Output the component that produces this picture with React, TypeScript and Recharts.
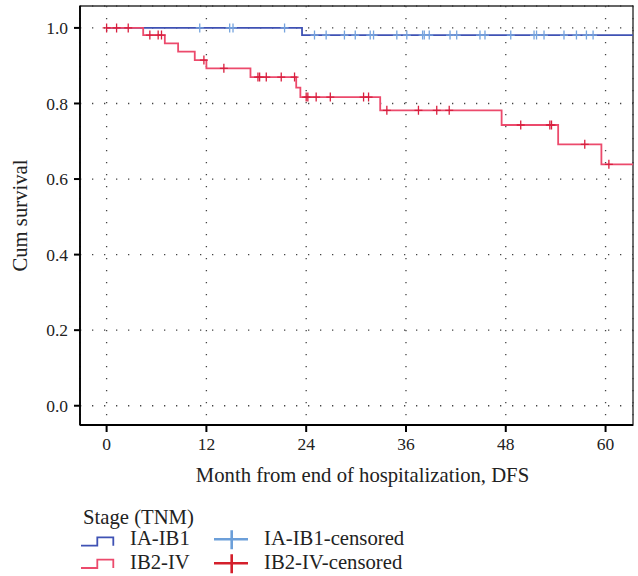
import React from 'react';
import {
  ComposedChart,
  Line,
  Scatter,
  XAxis,
  YAxis,
  CartesianGrid,
  ReferenceArea,
  Label,
} from 'recharts';

const FONT = '"Liberation Serif", "Times New Roman", serif';

// ---- data ----
const legendTitle = 'Stage (TNM)';
const stageLabels = ['IA-IB1', 'IB2-IV'];
const censorLabels = ['IA-IB1-censored', 'IB2-IV-censored'];
const xTitle = 'Month from end of hospitalization, DFS';
const yTitle = 'Cum survival';

const xTicks = [0, 12, 24, 36, 48, 60];
const yTicks = [0, 0.2, 0.4, 0.6, 0.8, 1.0];
const xDomain = [-3.2, 63.3];
const yDomain = [-0.051, 1.058];

const blueStepTimes = [0, 23.5, 63.3];
const blueStepSurv = [1.0, 0.981, 0.981];
const blueCensorTimes = [
  11.2, 14.8, 15.2, 21.4, 25.0, 26.4, 28.6, 29.9, 31.7, 32.1, 34.9, 36.1, 38.0,
  38.2, 38.8, 41.3, 42.1, 44.9, 45.5, 48.6, 51.4, 51.7, 52.6, 55.0, 56.5, 57.7, 58.5,
];

const redStepTimes = [0, 4.4, 7.0, 8.6, 10.6, 12.0, 17.3, 22.8, 23.3, 32.9, 47.5, 54.3, 59.5, 63.3];
const redStepSurv = [1.0, 0.981, 0.959, 0.937, 0.915, 0.893, 0.87, 0.842, 0.817, 0.782, 0.743, 0.692, 0.639, 0.639];
const redCensorTimes = [
  0, 1.2, 2.6, 5.2, 6.2, 6.6, 11.7, 14.1, 18.2, 18.4, 19.2, 21.0, 22.6, 24.0, 24.2,
  25.2, 26.9, 30.9, 31.5, 33.7, 37.5, 39.7, 41.2, 49.8, 53.3, 53.5, 57.5, 60.4,
];

// ---- colours ----
const BLUE_LINE = '#3f52b4';
const RED_LINE = '#ec4a6c';
const BLUE_CENSOR = '#76a4de';
const RED_CENSOR = '#d81f3e';
const BLUE_LEG_CROSS = '#6c9fd9';
const RED_LEG_CROSS = '#d41f2b';

const survAt = (times: number[], surv: number[], t: number) => {
  let v = surv[0];
  for (let i = 0; i < times.length; i++) if (times[i] <= t) v = surv[i];
  return v;
};

const blueLine = blueStepTimes.map((t, i) => ({ t, s: blueStepSurv[i] }));
const redLine = redStepTimes.map((t, i) => ({ t, s: redStepSurv[i] }));
const blueCensor = blueCensorTimes.map((t) => ({ t, s: survAt(blueStepTimes, blueStepSurv, t) }));
const redCensor = redCensorTimes.map((t) => ({ t, s: survAt(redStepTimes, redStepSurv, t) }));

const makeCross = (color: string) => (props: any) => {
  const { cx, cy } = props;
  if (cx == null || cy == null) return <g />;
  return (
    <path
      d={`M${cx - 4},${cy}H${cx + 4}M${cx},${cy - 4.5}V${cy + 4.5}`}
      stroke={color}
      strokeWidth={1.3}
      fill="none"
    />
  );
};

const W = 638;
const H = 576;
const TITLE_FS = 20.7;
const TICK_FS = 17.5;

export default function App() {
  return (
    <div style={{ position: 'absolute', left: 0, top: 0, width: W, height: H, background: '#fff' }}>
      <ComposedChart
        width={W}
        height={H}
        margin={{ top: 6, right: 5, left: 0, bottom: 111 }}
        style={{ fontFamily: FONT }}
      >
        <CartesianGrid
          stroke="#444"
          strokeWidth={1.3}
          strokeDasharray="1.3 10.7"
          horizontal
          vertical
        />
        <ReferenceArea
          x1={xDomain[0]}
          x2={xDomain[1]}
          y1={yDomain[0]}
          y2={yDomain[1]}
          fill="none"
          stroke="#333"
          strokeWidth={1.4}
          ifOverflow="visible"
        />
        <XAxis
          dataKey="t"
          type="number"
          domain={xDomain}
          ticks={xTicks}
          allowDataOverflow
          height={40}
          interval={0}
          tickSize={7}
          tickMargin={6}
          axisLine={{ stroke: '#000', strokeWidth: 1.8 }}
          tickLine={{ stroke: '#000', strokeWidth: 2 }}
          tick={{ fontSize: TICK_FS, fill: '#222', fontFamily: FONT }}
        >
          <Label
            content={(p: any) => {
              const vb = p.viewBox || {};
              return (
                <text
                  x={vb.x + vb.width / 2 + 6}
                  y={vb.y + 57}
                  textAnchor="middle"
                  fontSize={TITLE_FS}
                  fill="#222"
                  fontFamily={FONT}
                >
                  {xTitle}
                </text>
              );
            }}
          />
        </XAxis>
        <YAxis
          type="number"
          domain={yDomain}
          ticks={yTicks}
          allowDataOverflow
          width={80}
          interval={0}
          tickSize={6}
          tickMargin={6}
          tickFormatter={(v: number) => v.toFixed(1)}
          axisLine={{ stroke: '#000', strokeWidth: 1.8 }}
          tickLine={{ stroke: '#000', strokeWidth: 2 }}
          tick={{ fontSize: TICK_FS, fill: '#222', fontFamily: FONT }}
        >
          <Label
            content={(p: any) => {
              const vb = p.viewBox || {};
              const cy = vb.y + vb.height / 2;
              return (
                <text
                  x={27}
                  y={cy}
                  transform={`rotate(-90, 27, ${cy})`}
                  textAnchor="middle"
                  fontSize={TITLE_FS}
                  fill="#222"
                  fontFamily={FONT}
                >
                  {yTitle}
                </text>
              );
            }}
          />
        </YAxis>
        <Line
          data={blueLine}
          dataKey="s"
          type="stepAfter"
          stroke={BLUE_LINE}
          strokeWidth={1.8}
          dot={false}
          activeDot={false}
          isAnimationActive={false}
        />
        <Line
          data={redLine}
          dataKey="s"
          type="stepAfter"
          stroke={RED_LINE}
          strokeWidth={1.8}
          dot={false}
          activeDot={false}
          isAnimationActive={false}
        />
        <Scatter
          data={blueCensor}
          dataKey="s"
          shape={makeCross(BLUE_CENSOR)}
          isAnimationActive={false}
        />
        <Scatter
          data={redCensor}
          dataKey="s"
          shape={makeCross(RED_CENSOR)}
          isAnimationActive={false}
        />
      </ComposedChart>

      <svg
        width={W}
        height={H}
        style={{ position: 'absolute', left: 0, top: 0, pointerEvents: 'none' }}
        fontFamily={FONT}
      >
        <text x={83} y={524} fontSize={TITLE_FS} fill="#222">
          {legendTitle}
        </text>
        {stageLabels.map((lab, i) => {
          const base = 545 + i * 24;
          const low = 545.7 + i * 22.3;
          const high = low - 8.4;
          const lineColor = i === 0 ? BLUE_LINE : RED_LINE;
          const crossColor = i === 0 ? BLUE_LEG_CROSS : RED_LEG_CROSS;
          const cy = 539.3 + i * 24;
          return (
            <g key={lab}>
              <path
                d={`M81,${low}H97.3V${high}H113.3V${low}`}
                stroke={lineColor}
                strokeWidth={1.8}
                fill="none"
              />
              <text x={130} y={base} fontSize={TITLE_FS} fill="#222">
                {lab}
              </text>
              <path
                d={`M214,${cy}H248M231.7,${cy - 9}V${cy + 10}`}
                stroke={crossColor}
                strokeWidth={2.6}
                fill="none"
              />
              <text x={264} y={base} fontSize={TITLE_FS} fill="#222">
                {censorLabels[i]}
              </text>
            </g>
          );
        })}
      </svg>
    </div>
  );
}
